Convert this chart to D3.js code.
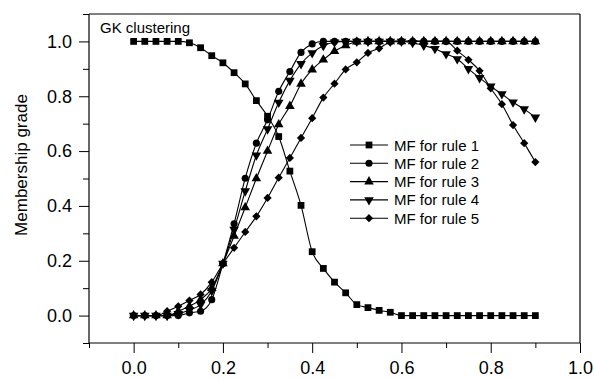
<!DOCTYPE html>
<html>
<head>
<meta charset="utf-8">
<script src="https://cdn.jsdelivr.net/npm/d3@7"></script>
<style>
  body { margin: 0; background: #fff; }
  text { font-family: "Liberation Sans", Arial, Helvetica, sans-serif; fill: #000; }
</style>
</head>
<body>
<div id="chart"></div>
<script>
// x positions shared by all five membership functions
const xValues = [0, 0.025, 0.05, 0.075, 0.1, 0.125, 0.15, 0.175, 0.2, 0.225,
  0.25, 0.275, 0.3, 0.325, 0.35, 0.375, 0.4, 0.425, 0.45, 0.475,
  0.5, 0.525, 0.55, 0.575, 0.6, 0.625, 0.65, 0.675, 0.7, 0.725,
  0.75, 0.775, 0.8, 0.825, 0.85, 0.875, 0.9];

const rule1 = [1, 1, 1, 1, 1, 0.995, 0.977, 0.948, 0.922, 0.886,
  0.845, 0.784, 0.727, 0.653, 0.527, 0.402, 0.233, 0.172, 0.122, 0.083,
  0.040, 0.029, 0.019, 0.012, 0, 0, 0, 0, 0, 0,
  0, 0, 0, 0, 0, 0, 0];
const rule2 = [0, 0, 0, 0, 0, 0.01, 0.016, 0.058, 0.189, 0.335,
  0.501, 0.629, 0.714, 0.818, 0.89, 0.96, 0.991, 1, 1, 1,
  1, 1, 1, 1, 1, 1, 1, 1, 1, 1,
  1, 1, 1, 1, 1, 1, 1];
const rule3 = [0, 0, 0, 0, 0.016, 0.034, 0.058, 0.1, 0.19, 0.29,
  0.394, 0.5, 0.6, 0.697, 0.764, 0.845, 0.897, 0.933, 0.964, 0.985,
  0.999, 1, 1, 1, 1, 1, 1, 1, 1, 1,
  1, 1, 1, 1, 1, 1, 1];
const rule4 = [0, 0, 0, 0, 0.007, 0.02, 0.04, 0.09, 0.19, 0.314,
  0.454, 0.585, 0.68, 0.777, 0.857, 0.918, 0.958, 0.984, 0.997, 1,
  1, 1, 1, 1, 1, 0.995, 0.985, 0.973, 0.954, 0.936,
  0.9, 0.867, 0.836, 0.808, 0.778, 0.753, 0.723];
const rule5 = [0, 0, 0, 0.016, 0.034, 0.055, 0.077, 0.122, 0.189, 0.247,
  0.305, 0.362, 0.429, 0.503, 0.575, 0.648, 0.72, 0.795, 0.846, 0.898,
  0.924, 0.958, 0.975, 0.997, 1, 1, 1, 1, 1, 0.966,
  0.933, 0.893, 0.829, 0.771, 0.695, 0.629, 0.56];

const seriesNames = ["MF for rule 1", "MF for rule 2", "MF for rule 3", "MF for rule 4", "MF for rule 5"];
const seriesValues = [rule1, rule2, rule3, rule4, rule5];
const markerKinds = ["square", "circle", "up", "down", "diamond"];

const xMajorTicks = [0, 0.2, 0.4, 0.6, 0.8, 1.0];
const xMinorTicks = [-0.1, 0.1, 0.3, 0.5, 0.7, 0.9];
const yMajorTicks = [0, 0.2, 0.4, 0.6, 0.8, 1.0];
const yMinorTicks = [-0.1, 0.1, 0.3, 0.5, 0.7, 0.9, 1.1];

const margin = { top: 14, right: 14, bottom: 36, left: 89 };
const width = 594 - margin.left - margin.right,
  height = 379 - margin.top - margin.bottom;

const svg = d3.select("#chart")
  .append("svg")
  .attr("width", 594)
  .attr("height", 379)
  .append("g")
  .attr("transform", `translate(${margin.left}, ${margin.top})`);

const x = d3.scaleLinear().domain([-0.1, 1.0]).range([0, width]);
const y = d3.scaleLinear().domain([-0.1, 1.1]).range([height, 0]);

// marker shapes
function markerPath(kind) {
  if (kind === "square") return d3.symbol(d3.symbolSquare, 46)();
  if (kind === "circle") return d3.symbol(d3.symbolCircle, 40)();
  if (kind === "up" || kind === "down") return d3.symbol(d3.symbolTriangle, 40)();
  return d3.symbol(d3.symbolSquare, 34)();
}
function markerRotate(kind) {
  if (kind === "down") return 180;
  if (kind === "diamond") return 45;
  return 0;
}

// frame lines (top and right)
svg.append("line").attr("x1", 0).attr("x2", width).attr("y1", 0).attr("y2", 0)
  .attr("stroke", "#000").attr("stroke-width", 1.2);
svg.append("line").attr("x1", width).attr("x2", width).attr("y1", 0).attr("y2", height)
  .attr("stroke", "#000").attr("stroke-width", 1.2);

// axes, major ticks with labels and minor ticks without
const xAxis = svg.append("g").attr("transform", `translate(0, ${height})`)
  .call(d3.axisBottom(x).tickValues(xMajorTicks).tickSize(10).tickPadding(8)
    .tickFormat(d3.format(".1f")));
svg.append("g").attr("transform", `translate(0, ${height})`)
  .call(d3.axisBottom(x).tickValues(xMinorTicks).tickSize(5).tickFormat(""))
  .select(".domain").remove();

const yAxis = svg.append("g")
  .call(d3.axisLeft(y).tickValues(yMajorTicks).tickSize(10).tickPadding(7)
    .tickFormat(d3.format(".1f")));
svg.append("g")
  .call(d3.axisLeft(y).tickValues(yMinorTicks).tickSize(6).tickFormat(""))
  .select(".domain").remove();

xAxis.select(".domain").attr("d", `M0,0H${width}`).attr("stroke-width", 1.2);
yAxis.select(".domain").attr("d", `M0,0V${height}`).attr("stroke-width", 1.2);

svg.selectAll(".tick line").attr("stroke", "#000").attr("stroke-width", 1);
svg.selectAll(".tick text").style("font-size", "18px")
  .style("font-family", "'Liberation Sans', Arial, sans-serif");

// y axis title
svg.append("text")
  .attr("transform", "rotate(-90)")
  .attr("x", -(165 - margin.top))
  .attr("y", 27 - margin.left)
  .style("text-anchor", "middle")
  .style("font-size", "17px")
  .text("Membership grade");

// annotation
svg.append("text")
  .attr("x", 100 - margin.left)
  .attr("y", 33 - margin.top)
  .style("font-size", "15px")
  .text("GK clustering");

// series lines and markers
const line = d3.line()
  .x((d, i) => x(xValues[i]))
  .y(d => y(d))
  .curve(d3.curveMonotoneX);

seriesValues.forEach((vals, s) => {
  svg.append("path")
    .datum(vals)
    .attr("fill", "none")
    .attr("stroke", "#000")
    .attr("stroke-width", 1.1)
    .attr("d", line);

  svg.selectAll(".m" + s)
    .data(vals)
    .enter()
    .append("path")
    .attr("class", "m" + s)
    .attr("d", markerPath(markerKinds[s]))
    .attr("transform", (d, i) => `translate(${x(xValues[i])}, ${y(d)}) rotate(${markerRotate(markerKinds[s])})`)
    .attr("fill", "#000");
});

// legend
const legend = svg.append("g").attr("transform", `translate(${350 - margin.left}, ${145 - margin.top})`);
seriesNames.forEach((name, s) => {
  const row = legend.append("g").attr("transform", `translate(0, ${s * 18.3})`);
  row.append("line").attr("x1", 0).attr("x2", 38).attr("y1", 0).attr("y2", 0)
    .attr("stroke", "#000").attr("stroke-width", 1.1);
  row.append("path")
    .attr("d", markerPath(markerKinds[s]))
    .attr("transform", `translate(19, 0) rotate(${markerRotate(markerKinds[s])})`)
    .attr("fill", "#000");
  row.append("text")
    .attr("x", 44)
    .attr("y", 5.5)
    .style("font-size", "15px")
    .text(name);
});
</script>
</body>
</html>
